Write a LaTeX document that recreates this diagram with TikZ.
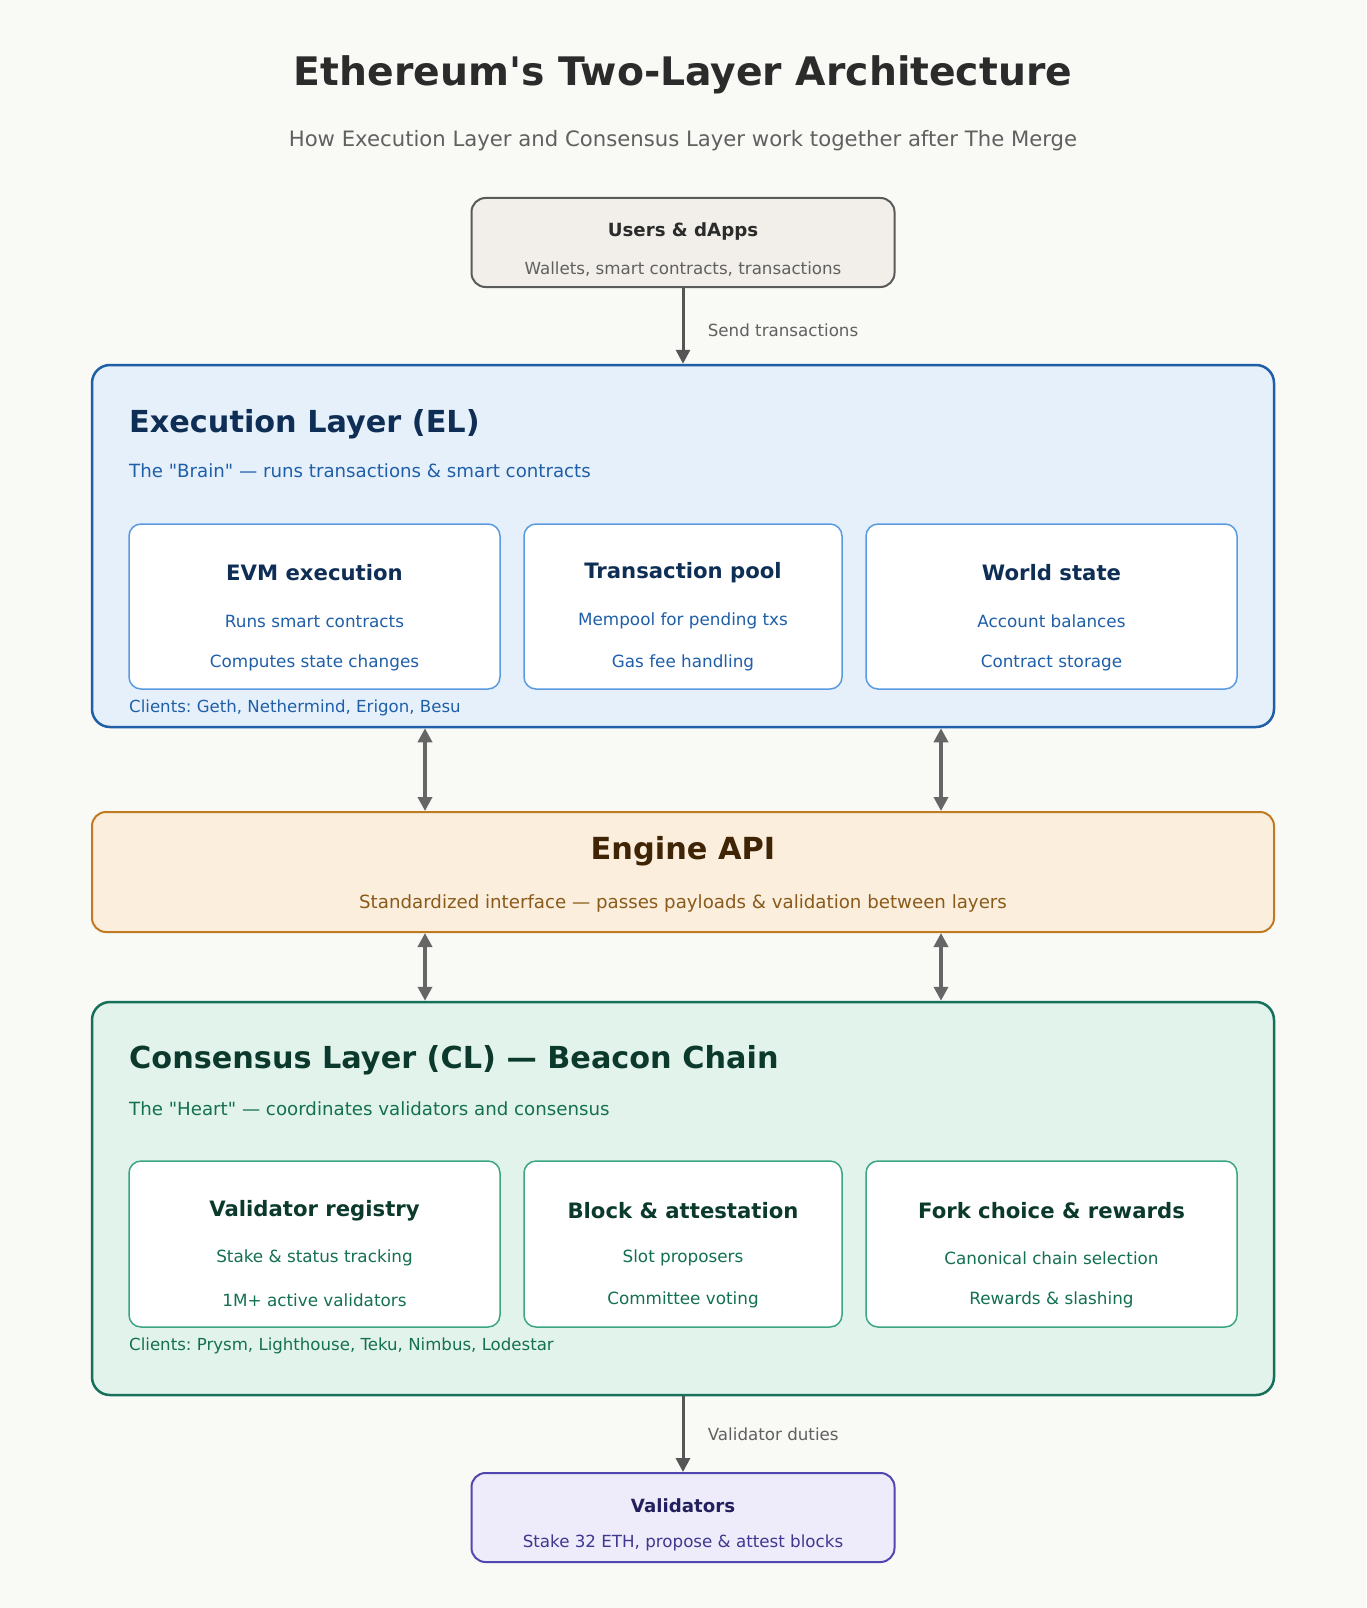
\documentclass[tikz,border=0pt]{standalone}
\usepackage{fontspec}
\setmainfont{DejaVu Sans}[Ligatures=TeXOff]
\usetikzlibrary{arrows.meta}
\frenchspacing

\definecolor{bgcol}{HTML}{F9F9F6}
\definecolor{usrfill}{HTML}{F2EFEA}
\definecolor{usrline}{HTML}{5A5A5A}
\definecolor{usrtext}{HTML}{2B2B2B}
\definecolor{greytext}{HTML}{606060}
\definecolor{elfill}{HTML}{E6F0FB}
\definecolor{elline}{HTML}{1F5FA8}
\definecolor{elinner}{HTML}{5A9BE0}
\definecolor{eldark}{HTML}{0E2E55}
\definecolor{apifill}{HTML}{FBEEDD}
\definecolor{apiline}{HTML}{C07A22}
\definecolor{apidark}{HTML}{3F2405}
\definecolor{apitext}{HTML}{8A5A1A}
\definecolor{clfill}{HTML}{E2F3EC}
\definecolor{clline}{HTML}{16705A}
\definecolor{clinner}{HTML}{3AA683}
\definecolor{cldark}{HTML}{0B3A2C}
\definecolor{cltext}{HTML}{137050}
\definecolor{valfill}{HTML}{EEECFB}
\definecolor{valline}{HTML}{5146B0}
\definecolor{valdark}{HTML}{24205E}
\definecolor{valtext}{HTML}{3F3790}
\definecolor{arrowcol}{HTML}{555555}

\begin{document}
\frenchspacing
\begin{tikzpicture}[x=1pt,y=-1pt,
  box/.style={rectangle, rounded corners=#1, inner sep=0pt},
  box/.default=18pt,
  bigtitle/.style={font=\fontsize{39.3}{44}\selectfont\bfseries, text=usrtext},
  subtitle/.style={font=\fontsize{21.2}{25}\selectfont, text=greytext},
  layertitle/.style={font=\fontsize{30.3}{35}\selectfont\bfseries, anchor=west, inner sep=0pt},
  layertext/.style={font=\fontsize{18.2}{22}\selectfont, anchor=west, inner sep=0pt},
  cardtitle/.style={font=\fontsize{21.2}{25}\selectfont\bfseries},
  cardtext/.style={font=\fontsize{16.8}{20}\selectfont},
  smalltitle/.style={font=\fontsize{18.2}{22}\selectfont\bfseries},
  smalltext/.style={font=\fontsize{16.7}{20}\selectfont},
  flow/.style={-{Triangle[length=14pt,width=14pt]}, line width=3pt, draw=arrowcol},
  both/.style={{Triangle[length=14pt,width=14pt]}-{Triangle[length=14pt,width=14pt]}, line width=3.5pt, draw=arrowcol!90!white},
]
\fill[bgcol] (0,0) rectangle (1366,1608);
\useasboundingbox (0,0) rectangle (1366,1608);

% heading
\node[bigtitle] (title) at (683,75) {Ethereum's Two-Layer Architecture};
\node[subtitle] (subtitle) at (683,141) {How Execution Layer and Consensus Layer work together after The Merge};

% users on top
\node[box=14pt, draw=usrline, line width=2pt, fill=usrfill, minimum width=423pt, minimum height=89pt] (users) at (683,242.5) {};
\node[smalltitle, text=usrtext] (userstitle) at (683,231) {Users \& dApps};
\node[smalltext, text=greytext] (userstext) at (683,269) {Wallets, smart contracts, transactions};

% execution layer
\node[box, draw=elline, line width=2.5pt, fill=elfill, minimum width=1182pt, minimum height=362pt] (el) at (683,546) {};
\node[layertitle, text=eldark] (eltitle) at (129,424) {Execution Layer (EL)};
\node[layertext, text=elline] (eltext) at (129,471) {The "Brain" — runs transactions \& smart contracts};
\foreach \x/\w/\n/\t/\a/\b in {314.5/371/evm/EVM execution/Runs smart contracts/Computes state changes,
                              683/318/pool/Transaction pool/Mempool for pending txs/Gas fee handling,
                              1051.5/371/state/World state/Account balances/Contract storage}{
  \node[box=12pt, draw=elinner, line width=1.5pt, fill=white, minimum width=\w pt, minimum height=165pt] (\n) at (\x,606.5) {};
  \node[cardtitle, text=eldark] (\n-t) at (\x,573) {\t};
  \node[cardtext, text=elline] (\n-a) at (\x,621) {\a};
  \node[cardtext, text=elline] (\n-b) at (\x,663) {\b};
}
\node[layertext, font=\fontsize{16.6}{20}\selectfont, text=elline] (elclients) at (129,708) {Clients: Geth, Nethermind, Erigon, Besu};

% engine api
\node[box=14pt, draw=apiline, line width=2pt, fill=apifill, minimum width=1182pt, minimum height=120pt] (engine) at (683,872) {};
\node[font=\fontsize{30.4}{35}\selectfont\bfseries, text=apidark] (enginetitle) at (683,851) {Engine API};
\node[font=\fontsize{18.2}{22}\selectfont, text=apitext] (enginetext) at (683,903) {Standardized interface — passes payloads \& validation between layers};

% consensus layer
\node[box, draw=clline, line width=2.5pt, fill=clfill, minimum width=1182pt, minimum height=393pt] (cl) at (683,1198.5) {};
\node[layertitle, text=cldark] (cltitle) at (129,1060) {Consensus Layer (CL) — Beacon Chain};
\node[layertext, text=cltext] (cltext) at (129,1109) {The "Heart" — coordinates validators and consensus};
\foreach \x/\w/\n/\t/\a/\b in {314.5/371/registry/Validator registry/Stake \& status tracking/1M+ active validators,
                              683/318/blocks/Block \& attestation/Slot proposers/Committee voting,
                              1051.5/371/fork/Fork choice \& rewards/Canonical chain selection/Rewards \& slashing}{
  \node[box=12pt, draw=clinner, line width=1.5pt, fill=white, minimum width=\w pt, minimum height=166pt] (\n) at (\x,1244) {};
  \node[cardtitle, text=cldark] (\n-t) at (\x,1211) {\t};
  \node[cardtext, text=cltext] (\n-a) at (\x,1258) {\a};
  \node[cardtext, text=cltext] (\n-b) at (\x,1300) {\b};
}
\node[layertext, font=\fontsize{16.6}{20}\selectfont, text=cltext] (clclients) at (129,1346) {Clients: Prysm, Lighthouse, Teku, Nimbus, Lodestar};

% validators at the bottom
\node[box=14pt, draw=valline, line width=2pt, fill=valfill, minimum width=423pt, minimum height=89pt] (val) at (683,1517.5) {};
\node[smalltitle, text=valdark] (valtitle) at (683,1506) {Validators};
\node[smalltext, text=valtext] (valtext) at (683,1543) {Stake 32 ETH, propose \& attest blocks};

% connectors
\coordinate (left) at (425,0);
\coordinate (right) at (941,0);
\draw[flow] (users) -- (el) node[midway, right=20pt, smalltext, text=greytext, yshift=-4pt] {Send transactions};
\draw[both] (el.south -| left) -- (engine.north -| left);
\draw[both] (el.south -| right) -- (engine.north -| right);
\draw[both] (engine.south -| left) -- (cl.north -| left);
\draw[both] (engine.south -| right) -- (cl.north -| right);
\draw[flow] (cl) -- (val) node[midway, right=20pt, smalltext, text=greytext] {Validator duties};
\end{tikzpicture}
\end{document}
